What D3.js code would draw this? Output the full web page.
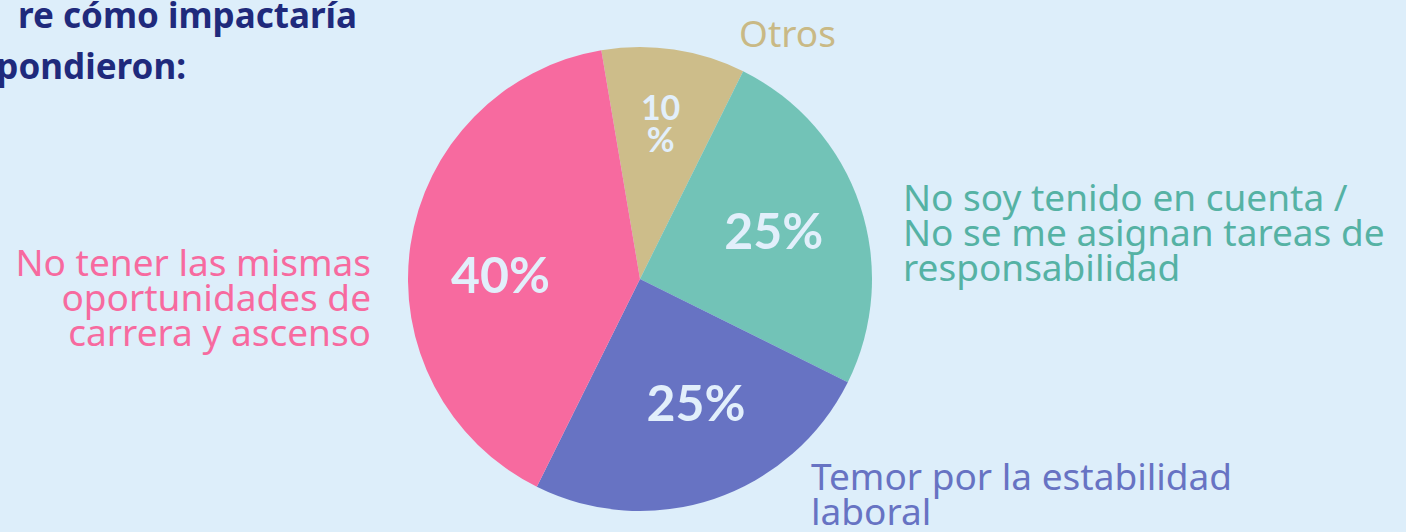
<!DOCTYPE html>
<html>
<head>
<meta charset="utf-8">
<script src="https://cdn.jsdelivr.net/npm/d3@7"></script>
<style>
  html, body { margin: 0; padding: 0; background: #ddeefa; overflow: hidden; }
  svg { display: block; }
</style>
</head>
<body>
<script>
// datos del gráfico
var categories = ["Otros", "No soy tenido en cuenta", "Temor por la estabilidad laboral", "No tener las mismas oportunidades"];
var values = [10, 25, 25, 40];
var pctLabels = [["10", "%"], ["25%"], ["25%"], ["40%"]];
var catLines = [
    ["Otros"],
    ["No soy tenido en cuenta /", "No se me asignan tareas de", "responsabilidad"],
    ["Temor por la estabilidad", "laboral"],
    ["No tener las mismas", "oportunidades de", "carrera y ascenso"]
];
var titleLines = ["re cómo impactaría", "pondieron:"];

var colors = ["#cdbd8a", "#72c3b7", "#6773c3", "#f76a9f"];
var textColors = ["#c9b985", "#55b2a4", "#6773c3", "#f76a9f"];

var width = 1406, height = 532;
var cx = 640, cy = 279, radius = 232;

var svg = d3.select("body").append("svg")
    .attr("width", width)
    .attr("height", height);

// título (cortado por la izquierda)
svg.append("g").selectAll("text")
    .data(titleLines)
    .enter()
    .append("text")
    .attr("x", function (d, i) { return i == 0 ? 357 : 186; })
    .attr("y", function (d, i) { return 28 + i * 51; })
    .attr("text-anchor", "end")
    .attr("font-family", "Noto Sans, sans-serif")
    .attr("font-weight", "bold")
    .attr("font-size", "35px")
    .style("fill", "#1f2a7c")
    .text(function (d) { return d; });

var startA = -9.6 * Math.PI / 180;
var pie = d3.pie()
    .sort(null)
    .startAngle(startA)
    .endAngle(startA + 2 * Math.PI);

var arc = d3.arc().innerRadius(0).outerRadius(radius);
var labelArc = d3.arc().innerRadius(141).outerRadius(141);

var arcs = pie(values);

var g = svg.append("g")
    .attr("transform", "translate(" + cx + "," + cy + ")");

g.selectAll("path")
    .data(arcs)
    .enter()
    .append("path")
    .attr("d", arc)
    .style("fill", function (d, i) { return colors[i]; });

// pequeños ajustes de posición de los porcentajes
var pctNudge = [[0, 0], [0, -3], [11, -10], [0, 17]];

// porcentajes dentro del pastel
g.selectAll(".pct")
    .data(arcs)
    .enter()
    .append("text")
    .attr("class", "pct")
    .attr("transform", function (d, i) {
        var c = labelArc.centroid(d);
        return "translate(" + (c[0] + pctNudge[i][0]) + "," + (c[1] + pctNudge[i][1]) + ")";
    })
    .attr("text-anchor", "middle")
    .attr("font-family", "Lato, sans-serif")
    .attr("font-weight", "bold")
    .style("fill", "#e2effb")
    .each(function (d, i) {
        var lines = pctLabels[i];
        var multi = lines.length > 1;
        var fs = multi ? 34 : 50;
        var sel = d3.select(this).attr("font-size", fs + "px");
        lines.forEach(function (l, j) {
            sel.append("tspan")
                .attr("x", 0)
                .attr("y", multi ? (j * 32 - 32 + fs * 0.36) : fs * 0.36)
                .text(l);
        });
    });

// etiquetas de categoría
var labelPos = [
    { x: 739, y: 47, anchor: "start" },
    { x: 903, y: 211, anchor: "start" },
    { x: 811, y: 490, anchor: "start" },
    { x: 371, y: 276, anchor: "end" }
];

svg.append("g").selectAll("text")
    .data(catLines)
    .enter()
    .append("text")
    .attr("text-anchor", function (d, i) { return labelPos[i].anchor; })
    .attr("font-family", "Noto Sans, sans-serif")
    .attr("font-size", "37px")
    .style("fill", function (d, i) { return textColors[i]; })
    .each(function (lines, i) {
        var sel = d3.select(this);
        lines.forEach(function (l, j) {
            sel.append("tspan")
                .attr("x", labelPos[i].x)
                .attr("y", labelPos[i].y + j * 35)
                .text(l);
        });
    });
</script>
</body>
</html>
